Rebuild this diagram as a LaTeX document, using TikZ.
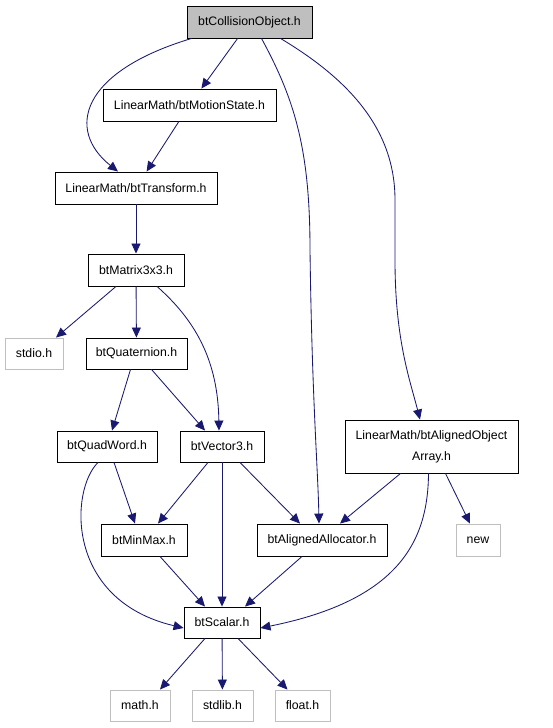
\documentclass[tikz,border=0pt]{standalone}
\usepackage{fontspec}
\setmainfont{Liberation Sans}
\usetikzlibrary{arrows.meta}
\definecolor{edgec}{HTML}{191970}
\definecolor{grayfill}{HTML}{BFBFBF}
\definecolor{lightb}{HTML}{BFBFBF}
\tikzset{
  box/.style={draw=black, line width=0.9pt, minimum height=32pt, inner sep=0pt, font=\fontsize{12.3}{21}\selectfont, anchor=center},
  sysbox/.style={draw=lightb, line width=0.9pt, minimum height=31pt, inner sep=0pt, font=\fontsize{12.3}{21}\selectfont, anchor=center},
  edge/.style={draw=edgec, line width=0.85pt, -{Triangle[length=10pt,width=9pt]}, fill=none},
}
\begin{document}
\begin{tikzpicture}[x=1pt,y=-1pt]
\useasboundingbox (0,0) rectangle (552,728);
\node[box, fill=grayfill, minimum width=125pt] (co) at (249.5,22) {btCollisionObject.h};
\node[box, minimum width=173pt] (ms) at (189.5,105) {LinearMath/btMotionState.h};
\node[box, minimum width=162pt] (tr) at (136,188) {LinearMath/btTransform.h};
\node[box, minimum width=96pt] (m33) at (136,270) {btMatrix3x3.h};
\node[sysbox, minimum width=58pt] (stdio) at (34,353.5) {stdio.h};
\node[box, minimum width=101pt, minimum height=31pt] (quat) at (136.5,353.5) {btQuaternion.h};
\node[box, minimum width=100pt, minimum height=31pt] (qw) at (107,446.5) {btQuadWord.h};
\node[box, minimum width=84pt, minimum height=31pt] (v3) at (222,446.5) {btVector3.h};
\node[box, minimum width=173pt, minimum height=53pt, align=center] (aoa) at (431.5,446.5) {LinearMath/btAlignedObject\\Array.h};
\node[box, minimum width=86pt] (mm) at (144,540) {btMinMax.h};
\node[box, minimum width=130pt] (aa) at (322,540) {btAlignedAllocator.h};
\node[sysbox, minimum width=44pt, minimum height=32pt] (new) at (478,540) {new};
\node[box, minimum width=76pt, minimum height=31pt] (sc) at (222,622.5) {btScalar.h};
\node[sysbox, minimum width=60pt] (math) at (140,705.5) {math.h};
\node[sysbox, minimum width=61pt] (stdlib) at (222.5,705.5) {stdlib.h};
\node[sysbox, minimum width=55pt] (float) at (302.5,705.5) {float.h};

% edges
\draw[edge] ([xshift=5pt]co.south west) .. controls (80,72) and (66,130) .. ([xshift=-18pt]tr.north);
\draw[edge] (co) -- (ms);
\draw[edge] ([xshift=12pt]co.south) .. controls (295,100) and (310,150) .. (310,250) .. controls (312,400) and (318,470) .. ([xshift=-3pt]aa.north);
\draw[edge] ([xshift=31pt]co.south) .. controls (350,80) and (395,130) .. (395,200) -- (395,260) .. controls (395,340) and (410,380) .. ([xshift=-11.5pt]aoa.north);
\draw[edge] (ms) -- (tr);
\draw[edge] (tr) -- (m33);
\draw[edge] ([xshift=-20pt]m33.south) -- ([xshift=22pt]stdio.north);
\draw[edge] (m33) -- (quat);
\draw[edge] ([xshift=21pt]m33.south) .. controls (195,320) and (218,360) .. ([xshift=-3pt]v3.north);
\draw[edge] ([xshift=-6pt]quat.south) -- ([xshift=5pt]qw.north);
\draw[edge] ([xshift=15pt]quat.south) -- ([xshift=-17pt]v3.north);
\draw[edge] ([xshift=7pt]qw.south) -- ([xshift=-9pt]mm.north);
\draw[edge] ([xshift=-9pt]qw.south) .. controls (70,490) and (65,600) .. ([yshift=-5.5pt]sc.west);
\draw[edge] ([xshift=-14pt]v3.south) -- ([xshift=14pt]mm.north);
\draw[edge] (v3) -- (sc);
\draw[edge] ([xshift=18pt]v3.south) -- ([xshift=-22pt]aa.north);
\draw[edge] ([xshift=-31pt]aoa.south) -- ([xshift=18pt]aa.north);
\draw[edge] ([xshift=-3pt]aoa.south) .. controls (428,540) and (400,600) .. ([yshift=-5.5pt]sc.east);
\draw[edge] ([xshift=14pt]aoa.south) -- ([xshift=-8pt]new.north);
\draw[edge] ([xshift=16pt]mm.south) -- ([xshift=-17pt]sc.north);
\draw[edge] ([xshift=-20pt]aa.south) -- ([xshift=23pt]sc.north);
\draw[edge] ([xshift=-17pt]sc.south) -- ([xshift=20pt]math.north);
\draw[edge] (sc) -- (stdlib);
\draw[edge] ([xshift=16pt]sc.south) -- ([xshift=-15pt]float.north);
\end{tikzpicture}
\end{document}
